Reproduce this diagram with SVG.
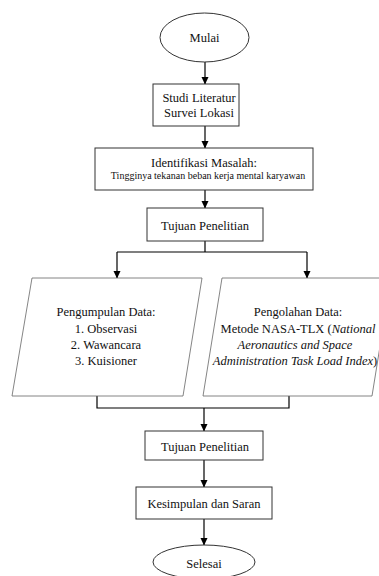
<svg xmlns="http://www.w3.org/2000/svg" width="379" height="576" viewBox="0 0 379 576">
<defs>
<marker id="ah" markerWidth="8" markerHeight="8" refX="7" refY="4" orient="auto" markerUnits="userSpaceOnUse">
<path d="M0,0.5 L7.5,4 L0,7.5 Z" fill="#000"/>
</marker>
<style>
.box{fill:#fff;stroke:#333;stroke-width:1}
.par{fill:#fff;stroke:#666;stroke-width:0.8}
.t{font-family:"Liberation Serif","Times New Roman",serif;font-size:12.5px;fill:#111;text-anchor:middle}
.s{font-size:10px}
.c{fill:none;stroke:#000;stroke-width:1.2}
</style>
</defs>
<rect width="379" height="576" fill="#fff"/>
<g id="connectors">
<path class="c" d="M205,62 V84" marker-end="url(#ah)"/>
<path class="c" d="M205,126 V148" marker-end="url(#ah)"/>
<path class="c" d="M205,190 V208" marker-end="url(#ah)"/>
<path class="c" d="M205,241 V252 M117,252 H307"/>
<path class="c" d="M117,252 V278" marker-end="url(#ah)"/>
<path class="c" d="M307,252 V278" marker-end="url(#ah)"/>
<path class="c" d="M97,396 V408 H289 V396"/>
<path class="c" d="M204,408 V431" marker-end="url(#ah)"/>
<path class="c" d="M204,460 V487" marker-end="url(#ah)"/>
<path class="c" d="M204,519 V545" marker-end="url(#ah)"/>
</g>
<g id="mulai">
<ellipse class="box" cx="204.5" cy="37.5" rx="44.5" ry="24.5"/>
<text class="t" x="204.5" y="42">Mulai</text>
</g>
<g id="studi">
<rect class="box" x="153" y="84" width="86" height="42"/>
<text class="t" x="199" y="102">Studi Literatur</text>
<text class="t" x="199" y="117">Survei Lokasi</text>
</g>
<g id="identifikasi">
<rect class="box" x="95" y="148" width="218" height="42"/>
<text class="t" x="204" y="167">Identifikasi Masalah:</text>
<text class="t s" x="208" y="179">Tingginya tekanan beban kerja mental karyawan</text>
</g>
<g id="tujuan1">
<rect class="box" x="147" y="208" width="116" height="33"/>
<text class="t" x="205" y="230">Tujuan Penelitian</text>
</g>
<g id="pengumpulan">
<polygon class="par" points="32,278 202,278 183,396 12,396"/>
<text class="t" x="106" y="316">Pengumpulan Data:</text>
<text class="t" x="106" y="333">1. Observasi</text>
<text class="t" x="106" y="349">2. Wawancara</text>
<text class="t" x="106" y="365">3. Kuisioner</text>
</g>
<g id="pengolahan">
<polygon class="par" points="222,278 391,278 372,396 203,396"/>
<text class="t" x="298" y="316">Pengolahan Data:</text>
<text class="t" x="298" y="333">Metode NASA-TLX (<tspan font-style="italic">National</tspan></text>
<text class="t" x="295" y="349" font-style="italic">Aeronautics and Space</text>
<text class="t" x="295" y="365"><tspan font-style="italic">Administration Task Load Index</tspan>)</text>
</g>
<g id="tujuan2">
<rect class="box" x="145" y="431" width="118" height="29"/>
<text class="t" x="205" y="451">Tujuan Penelitian</text>
</g>
<g id="kesimpulan">
<rect class="box" x="136" y="487" width="136" height="32"/>
<text class="t" x="204" y="508">Kesimpulan dan Saran</text>
</g>
<g id="selesai">
<ellipse class="box" cx="204" cy="562" rx="51" ry="17"/>
<text class="t" x="204" y="568">Selesai</text>
</g>
</svg>
